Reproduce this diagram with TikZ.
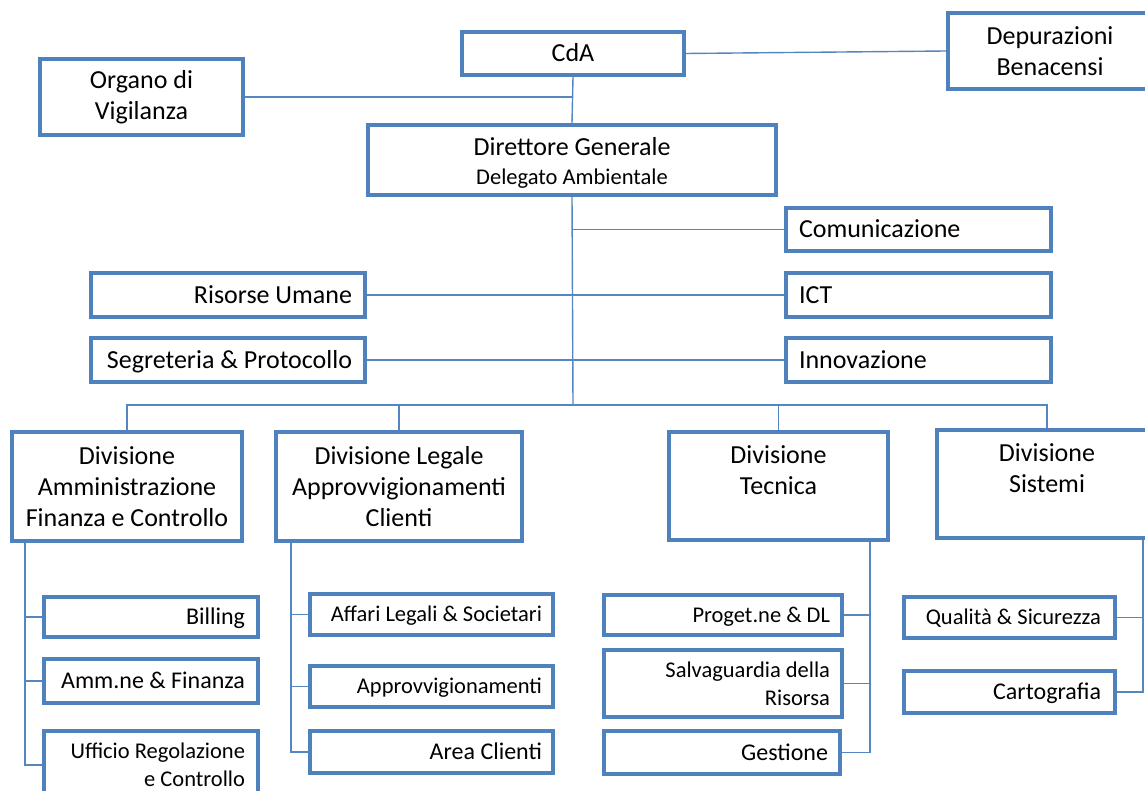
\documentclass[tikz,border=0pt]{standalone}
\usepackage{fontspec}
\setmainfont{Carlito}
\definecolor{boxblue}{RGB}{79,129,189}
\definecolor{lineblue}{RGB}{84,134,192}
\begin{document}
\begin{tikzpicture}[x=1pt,y=-1pt,
  bx/.style={draw=boxblue,line width=4pt,fill=white,inner ysep=0pt,inner xsep=13pt,rectangle},
  fA/.style={font=\fontsize{26}{31}\selectfont},
  fB/.style={font=\fontsize{24}{29}\selectfont},
  fC/.style={font=\fontsize{22.5}{28}\selectfont},
  slA/.style={fA,text height=17pt,text depth=0pt},
  slB/.style={fB,text height=15.5pt,text depth=0pt},
  slC/.style={fC,text height=14.5pt,text depth=0pt},
  cn/.style={draw=lineblue,line width=1.4pt}]
\useasboundingbox (0,0) rectangle (1145,791);
\begin{scope}
\clip (0,0) rectangle (1145,791);
% top level
\node[bx,fA,align=flush center,text width=177pt,minimum height=76pt] (ov) at (141.5,97) {Organo di\\Vigilanza};
\node[bx,slA,align=flush center,text width=196pt,minimum height=43pt] (cda) at (573,53.5) {CdA};
\node[bx,fA,align=flush center,text width=178pt,minimum height=76pt] (dep) at (1050,51) {Depurazioni\\Benacensi};
\node[bx,fA,align=flush center,text width=382pt,minimum height=70pt] (dg) at (572,160) {\rule{0pt}{24pt}Direttore Generale\\[-2pt]{\fontsize{22.5}{27}\selectfont Delegato Ambientale}};
% staff
\node[bx,slA,align=flush left,text width=239pt,minimum height=43pt] (com) at (918.5,229.5) {Comunicazione};
\node[bx,slA,align=flush left,text width=239pt,minimum height=44pt] (ict) at (918.5,295) {ICT};
\node[bx,slA,align=flush left,text width=239pt,minimum height=44pt] (inn) at (918.5,360) {Innovazione};
\node[bx,slA,align=flush right,text width=248pt,minimum height=44pt] (ru) at (228,295) {Risorse Umane};
\node[bx,slA,align=flush right,text width=248pt,minimum height=44pt] (seg) at (228,360) {Segreteria \& Protocollo};
% divisions
\node[bx,fA,align=flush center,inner xsep=6pt,text width=218pt,minimum height=109pt] (d1) at (127,486.5) {Divisione\\Amministrazione\\Finanza e Controllo};
\node[bx,fA,align=flush center,inner xsep=6pt,text width=234pt,minimum height=109pt] (d2) at (399,486.5) {Divisione Legale\\Approvvigionamenti\\Clienti};
\node[bx,fA,align=flush center,inner xsep=6pt,text width=207pt,minimum height=108pt] (d3) at (778.5,486) {Divisione\\Tecnica\\\phantom{C}};
\node[bx,fA,align=flush center,inner xsep=6pt,text width=208pt,minimum height=108pt] (d4) at (1047,484) {Divisione\\Sistemi\\\phantom{C}};
% sub units
\node[bx,slB,align=flush right,text width=188pt,minimum height=40pt] (bil) at (151,617) {Billing};
\node[bx,slB,align=flush right,text width=188pt,minimum height=44pt] (amm) at (151,681) {Amm.ne \& Finanza};
\node[bx,fC,align=flush right,text width=188pt,minimum height=68pt] (ur) at (151,765) {Ufficio Regolazione\\e Controllo};
\node[bx,slC,align=flush right,inner xsep=11pt,text width=221pt,minimum height=41pt] (aff) at (431.5,614.5) {Affari Legali \& Societari};
\node[bx,slC,align=flush right,inner xsep=11pt,text width=221pt,minimum height=41pt] (app) at (431.5,686.5) {Approvvigionamenti};
\node[bx,slB,align=flush right,inner xsep=11pt,text width=221pt,minimum height=42pt] (ac) at (431.5,752) {Area Clienti};
\node[bx,slC,align=flush right,inner xsep=12pt,text width=214pt,minimum height=40pt] (pro) at (723,615) {Proget.ne \& DL};
\node[bx,fC,align=flush right,inner xsep=12pt,text width=214pt,minimum height=67pt] (sal) at (723,683.5) {Salvaguardia della\\Risorsa};
\node[bx,slB,align=flush right,inner xsep=12pt,text width=212pt,minimum height=43pt] (ges) at (722,752.5) {Gestione};
\node[bx,slC,align=flush right,inner xsep=14pt,text width=183pt,minimum height=41pt] (qua) at (1009.5,617.5) {Qualità \& Sicurezza};
\node[bx,slB,align=flush right,inner xsep=14pt,text width=183pt,minimum height=42pt] (car) at (1009.5,692) {Cartografia};
% coordinates
\coordinate (bus) at (573,405);
\coordinate (t1) at ([xshift=15pt]d1.south west);
\coordinate (t2) at ([xshift=17pt]d2.south west);
\coordinate (t3) at ([xshift=-20pt]d3.south east);
\coordinate (t4) at ([xshift=-16pt]d4.south east);
% connectors
\draw[cn] (cda.east) -- (dep.west);
\draw[cn] (cda.south) -- (dg.north);
\draw[cn] (ov.east) -- (ov.east -| cda.south);
\draw[cn] (dg.south) -- (bus);
\draw[cn] (com.west) -- (com.west -| dg.south);
\draw[cn] (ru.east) -- (ict.west);
\draw[cn] (seg.east) -- (inn.west);
\draw[cn] (d1.north) |- (d4.north |- bus) -- (d4.north);
\draw[cn] (d2.north) -- (d2.north |- bus);
\draw[cn] (d3.north) -- (d3.north |- bus);
\draw[cn] (t1) |- (ur.west);
\draw[cn] (bil.west) -- (bil.west -| t1);
\draw[cn] (amm.west) -- (amm.west -| t1);
\draw[cn] (t2) |- (ac.west);
\draw[cn] (aff.west) -- (aff.west -| t2);
\draw[cn] (app.west) -- (app.west -| t2);
\draw[cn] (t3) |- (ges.east);
\draw[cn] (pro.east) -- (pro.east -| t3);
\draw[cn] (sal.east) -- (sal.east -| t3);
\draw[cn] (t4) |- (car.east);
\draw[cn] (qua.east) -- (qua.east -| t4);
\end{scope}
\end{tikzpicture}
\end{document}
